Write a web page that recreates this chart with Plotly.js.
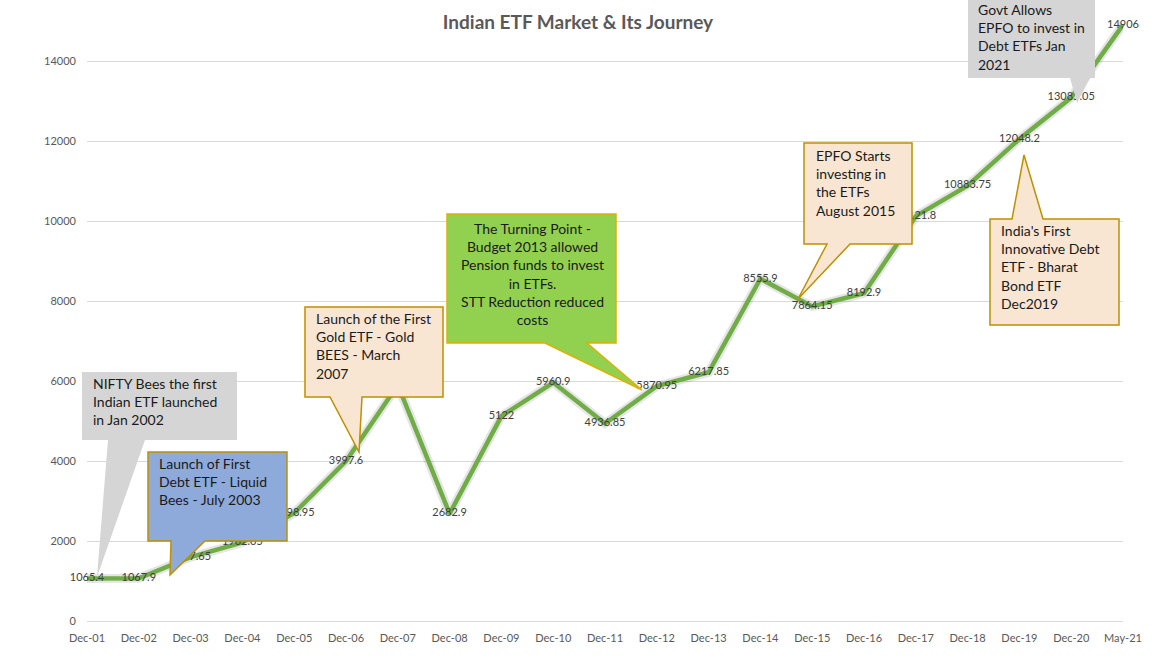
<!DOCTYPE html>
<html>
<head>
<meta charset="utf-8">
<script src="https://cdn.plot.ly/plotly-3.0.1.min.js"></script>
<style>html,body{margin:0;padding:0;background:#fff;}#chart{width:1170px;height:658px;}</style>
</head>
<body>
<div id="chart"></div>
<script>
// ---- data ----
const periods = ["Dec-01","Dec-02","Dec-03","Dec-04","Dec-05","Dec-06","Dec-07","Dec-08","Dec-09","Dec-10","Dec-11","Dec-12","Dec-13","Dec-14","Dec-15","Dec-16","Dec-17","Dec-18","Dec-19","Dec-20","May-21"];
const etfValues = [1065.4,1067.9,1597.65,1962.05,2698.95,3997.6,5900,2682.9,5122,5960.9,4936.85,5870.95,6217.85,8555.9,7864.15,8192.9,10121.8,10883.75,12048.2,13085.05,14906];
const yTicks = [0,2000,4000,6000,8000,10000,12000,14000];

const calloutTexts = [
  ["NIFTY Bees the first","Indian ETF launched","in Jan 2002"],
  ["Launch of First","Debt ETF - Liquid","Bees - July 2003"],
  ["Launch of the First","Gold ETF - Gold","BEES - March","2007"],
  ["The Turning Point -","Budget 2013 allowed","Pension funds to invest","in ETFs.","STT Reduction reduced","costs"],
  ["EPFO Starts","investing in","the ETFs","August 2015"],
  ["India's First","Innovative Debt","ETF - Bharat","Bond ETF","Dec2019"],
  ["Govt Allows","EPFO to invest in","Debt ETFs Jan","2021"]
];

// ---- layout geometry (pixels) ----
const PL = 87, PR = 1123, PB = 621, PT = 5;
const px2x = p => (p - PL) / (PR - PL);
const py2y = p => (PB - p) / (PB - PT);

const callouts = [
  {box:[82,372,237,440], side:'bottom', a:108, b:145, tip:[97,577], fill:'#d5d5d5', line:'rgba(0,0,0,0)', tx:92, ty:374, align:'left'},
  {box:[148,452,287,541], side:'bottom', a:171, b:205, tip:[170,575], fill:'#8eaadb', line:'#bf9000', tx:158, ty:454, align:'left'},
  {box:[305,307,443,397], side:'bottom', a:330, b:362, tip:[359,452], fill:'#f8e6d3', line:'#bf9000', tx:315, ty:309, align:'left'},
  {box:[447,214,616,343], side:'bottom', a:545, b:587, tip:[642,390], fill:'#92d050', line:'#e0b000', tx:532, ty:219, align:'center'},
  {box:[804,143,912,244], side:'bottom', a:827, b:850, tip:[798,299], fill:'#f8e6d3', line:'#bf9000', tx:815, ty:146, align:'left'},
  {box:[990,219,1119,325], side:'top', a:1012, b:1043, tip:[1024,155], fill:'#f8e6d3', line:'#bf9000', tx:1000, ty:221, align:'left'},
  {box:[968,-14,1095,78], side:'bottom', a:1070, b:1090, tip:[1077,103], fill:'#d5d5d5', line:'rgba(0,0,0,0)', tx:977, ty:0, align:'left'}
];

function pt(x,y){ return px2x(x).toFixed(5)+','+py2y(y).toFixed(5); }
const shapes = [];
const annotations = [];
callouts.forEach((c,i)=>{
  const [x0,y0,x1,y1] = c.box;
  let d;
  if(c.side==='bottom'){
    d = 'M'+pt(x0,y0)+' L'+pt(x1,y0)+' L'+pt(x1,y1)+' L'+pt(c.b,y1)+' L'+pt(c.tip[0],c.tip[1])+' L'+pt(c.a,y1)+' L'+pt(x0,y1)+' Z';
  } else {
    d = 'M'+pt(x0,y0)+' L'+pt(c.a,y0)+' L'+pt(c.tip[0],c.tip[1])+' L'+pt(c.b,y0)+' L'+pt(x1,y0)+' L'+pt(x1,y1)+' L'+pt(x0,y1)+' Z';
  }
  shapes.push({type:'path', xref:'paper', yref:'paper', path:d, fillcolor:c.fill, line:{color:c.line, width:1.5}, layer:'above'});
  annotations.push({
    xref:'paper', yref:'paper', x:px2x(c.tx), y:py2y(c.ty),
    xanchor: c.align==='center' ? 'center' : 'left', yanchor:'top', align:c.align,
    text: calloutTexts[i].join('<br>'), showarrow:false, borderpad:0,
    font:{family:'Lato, "Open Sans", sans-serif', size:14, color:'#1a1a1a'}
  });
});

const traces = [
  {x:periods, y:etfValues, type:'scatter', mode:'lines', line:{color:'rgba(0,0,0,0.10)', width:9}, hoverinfo:'skip', showlegend:false, cliponaxis:false},
  {x:periods, y:etfValues, type:'scatter', mode:'lines+text', text:etfValues.map(String), textposition:'middle center',
   textfont:{family:'Lato, "Open Sans", sans-serif', size:11, color:'#404040'}, cliponaxis:false,
   line:{color:'#70ad47', width:4.5}, showlegend:false}
];

const layout = {
  width:1170, height:658,
  margin:{l:PL, r:1170-PR, t:PT, b:658-PB},
  paper_bgcolor:'#ffffff', plot_bgcolor:'#ffffff',
  title:{text:'Indian ETF Market & Its Journey', x:0.494, xanchor:'center', y:1-22/658, yanchor:'middle', yref:'container',
         font:{family:'Lato, "Open Sans", sans-serif', size:19, color:'#595959', weight:'bold'}},
  xaxis:{type:'category', range:[0, periods.length-1], showgrid:false, zeroline:false, showline:false, ticks:'',
         tickfont:{family:'Lato, "Open Sans", sans-serif', size:11, color:'#595959'}, ticklabelstandoff:9, fixedrange:true},
  yaxis:{range:[0, 15400], tickvals:yTicks, ticktext:yTicks.map(String), showgrid:true, gridcolor:'#d9d9d9', gridwidth:1,
         zeroline:true, zerolinecolor:'#d9d9d9', zerolinewidth:1, showline:false, ticks:'',
         tickfont:{family:'Lato, "Open Sans", sans-serif', size:11, color:'#595959'}, ticklabelstandoff:10, fixedrange:true},
  shapes:shapes, annotations:annotations,
  showlegend:false
};
Plotly.newPlot('chart', traces, layout, {displayModeBar:false, staticPlot:true});
</script>
</body>
</html>
